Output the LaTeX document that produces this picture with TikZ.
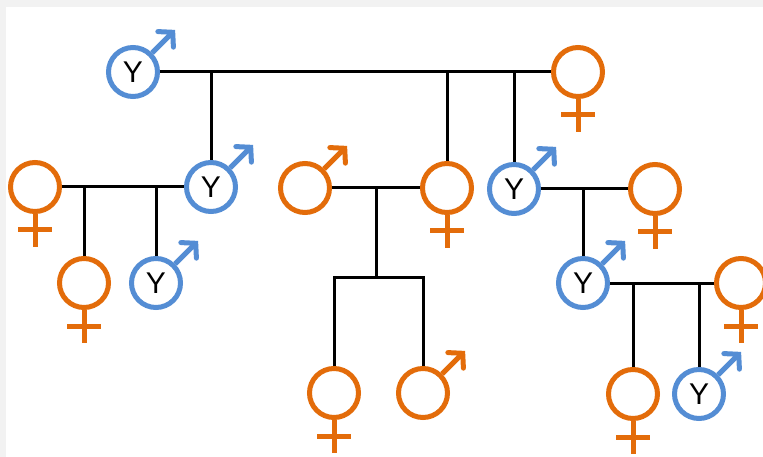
\documentclass[tikz,border=0pt]{standalone}
\usepackage{fontspec}
\usepackage{tikz}
\usetikzlibrary{arrows.meta}
\newfontfamily\yfont{Liberation Sans}
\definecolor{xblue}{RGB}{84,141,212}
\definecolor{xorange}{RGB}{227,108,10}

\tikzset{
	person/.style={circle, line width=5pt, minimum size=49pt, inner sep=0pt, font=\yfont\fontsize{30pt}{30pt}\selectfont},
	fem/.style={person, draw=xorange,
		append after command={(\tikzlastnode.south) edge[xorange, line width=5pt] ++(0,33)
			([shift={(-17,16)}]\tikzlastnode.south) edge[xorange, line width=5pt] ++(34,0)}},
	mal/.style={person, draw=#1,
		append after command={(\tikzlastnode.45) edge[#1, line width=5pt, -{Straight Barb[length=10pt, width=22pt, line cap=round]}] ++(23,-23)}},
	mal/.default=xorange,
	link/.style={draw=black, line width=3pt}
}

\begin{document}
\begin{tikzpicture}[x=1pt, y=-1pt]
			\fill[gray!10] (0,0) rectangle (763,457);
			\fill[white] (6,7) rectangle (763,457);
			\useasboundingbox (0,0) rectangle (763,457);
			% first generation
			\node[mal=xblue] (m1) at (133,72) {Y};
			\node[fem] (f1) at (578,72) {};
			% second generation
			\node[fem] (f2) at (35,187) {};
			\node[mal=xblue] (m2) at (211,187) {Y};
			\node[mal] (m5) at (305,188) {};
			\node[fem] (f3) at (447,188) {};
			\node[mal=xblue] (m4) at (514,189) {Y};
			\node[fem] (f5) at (655,189) {};
			% third generation
			\node[fem] (f4) at (84,283) {};
			\node[mal=xblue] (m3) at (156,283) {Y};
			\node[mal=xblue] (m6) at (583,283) {Y};
			\node[fem] (f6) at (741,283) {};
			% fourth generation
			\node[fem] (f7) at (334,393) {};
			\node[mal] (m7) at (423,393) {};
			\node[fem] (f8) at (633,394) {};
			\node[mal=xblue] (m8) at (699,394) {Y};
			\coordinate (sib) at (376,277);

			\draw[link] (m1) -- (f1);
			\draw[link] (m2.north) -- (m2.north |- m1);
			\draw[link] (f3.north) -- (f3.north |- m1);
			\draw[link] (m4.north) -- (m4.north |- m1);
			\draw[link] (f2) -- (m2);
			\draw[link] (f4.north) -- (f4.north |- f2);
			\draw[link] (m3.north) -- (m3.north |- f2);
			\draw[link] (m5) -- (f3);
			\draw[link] (sib) -- (sib |- m5);
			\draw[link] (f7.north) |- (sib) -| (m7.north);
			\draw[link] (m4) -- (f5);
			\draw[link] (m6.north) -- (m6.north |- m4);
			\draw[link] (m6) -- (f6);
			\draw[link] (f8.north) -- (f8.north |- m6);
			\draw[link] (m8.north) -- (m8.north |- m6);
		\end{tikzpicture}
\end{document}
